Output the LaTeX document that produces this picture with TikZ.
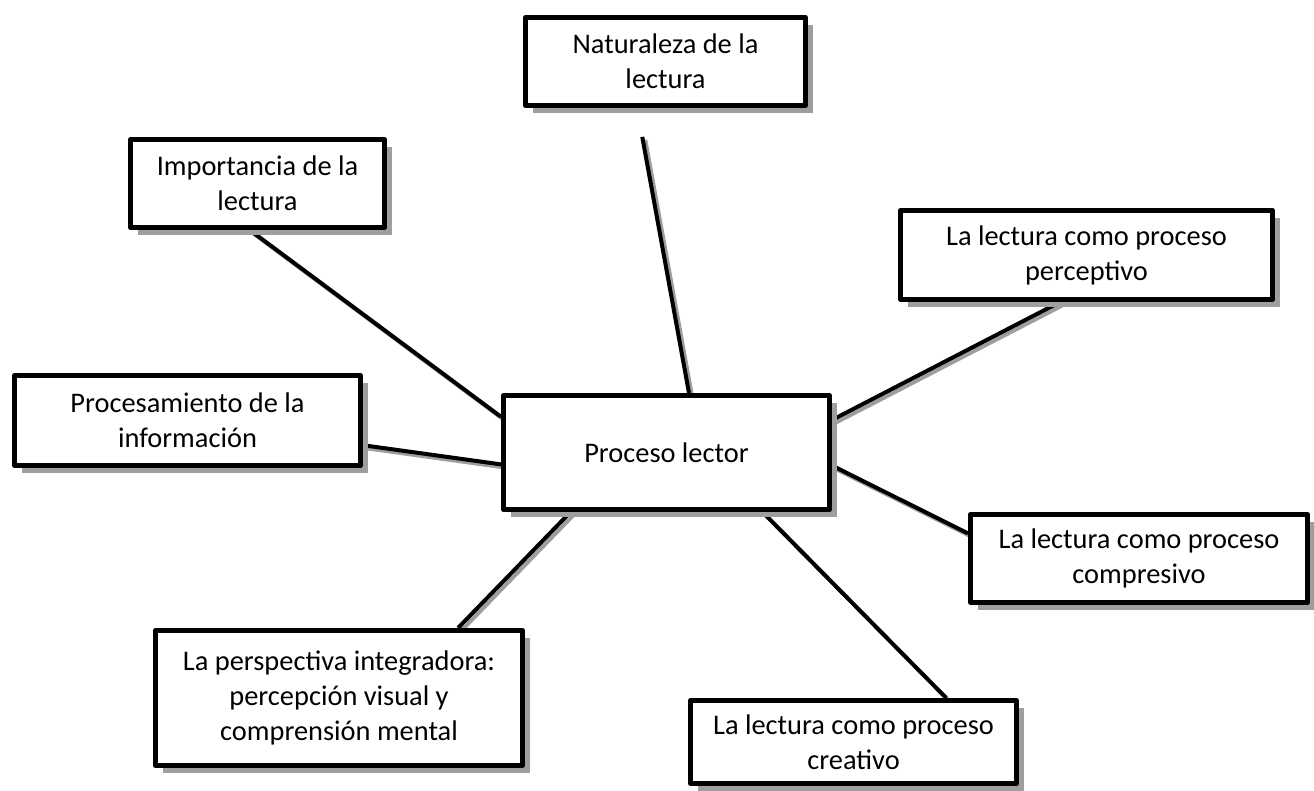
\documentclass[tikz,border=0pt]{standalone}
\usepackage{fontspec}
\setmainfont{Carlito}
\usetikzlibrary{calc,shadows,backgrounds}
\definecolor{shd}{rgb}{0.62,0.62,0.62}

\tikzset{
  box/.style={draw, line width=2.5pt, fill=white, align=center, inner sep=0pt,
    drop shadow={shadow xshift=3.75pt, shadow yshift=-3.75pt, fill=shd, opacity=1}},
  link/.style={line width=2pt,
    preaction={draw=shd, line width=2pt, transform canvas={shift={(1.5pt,-1.5pt)}}}}
}

\begin{document}
\begin{tikzpicture}[line join=round,x=0.5pt,y=-0.5pt,font=\fontsize{14.2}{17.5}\selectfont]
\useasboundingbox (0,0) rectangle (1314,791);
\node[box,minimum width=140pt,minimum height=44pt] (nat) at (665.5,61.5) {Naturaleza de la\\lectura};
\node[box,minimum width=127pt,minimum height=44pt] (imp) at (257.5,183.5) {Importancia de la\\lectura};
\node[box,minimum width=186pt,minimum height=44.5pt] (per) at (1086.5,255) {La lectura como proceso\\perceptivo};
\node[box,minimum width=173pt,minimum height=45pt] (proc) at (187.5,420.5) {Procesamiento de la\\informaci\'on};
\node[box,minimum width=163pt,minimum height=57pt] (cen) at (666.5,452.5) {Proceso lector};
\node[box,minimum width=168.5pt,minimum height=44pt] (comp) at (1139,558.5) {La lectura como proceso\\compresivo};
\node[box,minimum width=183.5pt,minimum height=67.5pt] (persp) at (339,698) {La perspectiva integradora:\\percepci\'on visual y\\comprensi\'on mental};
\node[box,minimum width=163pt,minimum height=41.5pt] (crea) at (853.5,742) {La lectura como proceso\\creativo};
\begin{pgfonlayer}{background}
\draw[link,shorten <=14.7pt] ($(nat.south west)!0.4!(nat.south east)$) -- ($(cen.north west)!0.568!(cen.north east)$);
\draw[link] ($(imp.south west)!0.47!(imp.south east)$) -- ($(cen.north west)!0.2!(cen.south west)$);
\draw[link] ($(per.south west)!0.43!(per.south east)$) -- ($(cen.north east)!0.227!(cen.south east)$);
\draw[link] ($(proc.north east)!0.76!(proc.south east)$) -- ($(cen.north west)!0.6!(cen.south west)$);
\draw[link] ($(cen.north east)!0.61!(cen.south east)$) -- ($(comp.north west)!0.23!(comp.south west)$);
\draw[link] ($(cen.south west)!0.79!(cen.south east)$) -- ($(crea.north west)!0.78!(crea.north east)$);
\draw[link] ($(cen.south west)!0.21!(cen.south east)$) -- ($(persp.north west)!0.82!(persp.north east)$);
\end{pgfonlayer}
\end{tikzpicture}
\end{document}
